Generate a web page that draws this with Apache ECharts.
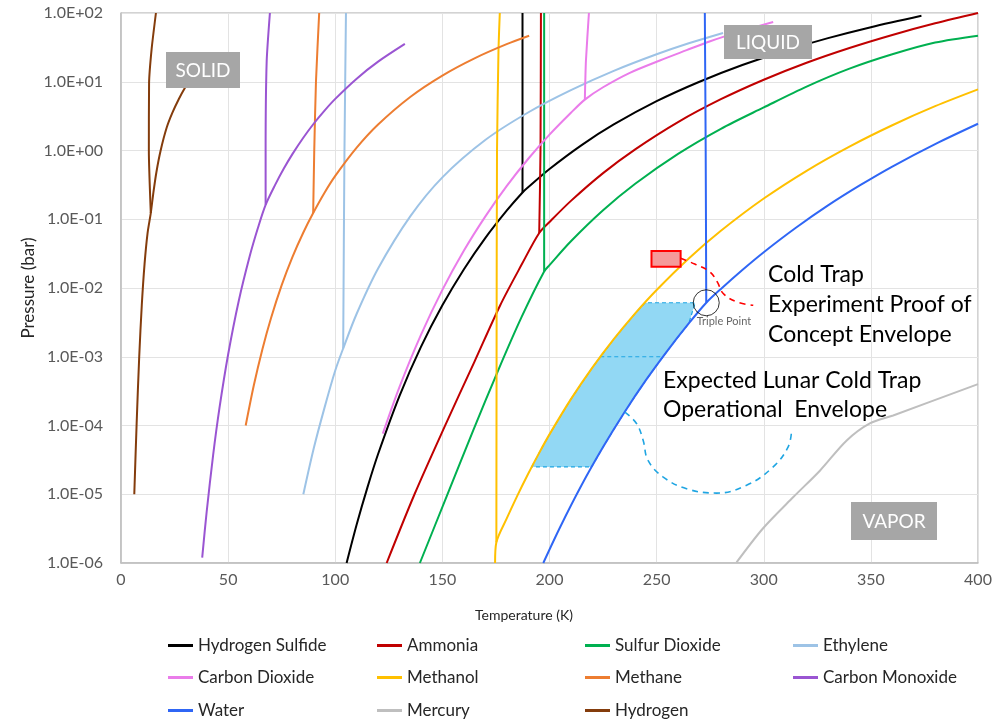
<!DOCTYPE html>
<html>
<head>
<meta charset="utf-8">
<script src="https://cdn.jsdelivr.net/npm/echarts@6/dist/echarts.min.js"></script>
<style>
  html, body { margin: 0; padding: 0; background: #fff; }
  #chart { width: 1005px; height: 722px; }
</style>
</head>
<body>
<div id="chart"></div>
<script>
// [temperature K, pressure bar]
// sub = solid/vapour, vap = liquid/vapour, melt = solid/liquid
const h2sSub = [[105.3, 1e-6], [110, 3.63e-6], [115, 1.25e-5], [120, 3.85e-5], [130, 2.7e-4], [140, 1.39e-3], [150, 5.6e-3], [160, 1.86e-2], [170, 5.31e-2], [180, 0.133], [187.4, 0.245]]
const h2sVap = [[190, 0.291], [200, 0.538], [215, 1.2], [230, 2.39], [250, 5.21], [270, 10], [290, 17.5], [310, 28.3], [330, 43.1], [350, 62.2], [373.6, 91.2]]
const h2sMelt = [[187.4, 0.245], [187.4, 100]]

const nh3Sub = [[124, 1e-6], [137, 1e-5], [151, 9.55e-5], [165, 8.51e-4], [177, 5.62e-3], [187, 2.19e-2], [195.2, 6.31e-2]]
const nh3Vap = [[200, 9.12e-2], [210, 0.185], [225, 0.469], [240, 1.04], [260, 2.59], [280, 5.57], [300, 10.7], [320, 18.9], [340, 31], [360, 48], [380, 70.8], [400, 100]]
const nh3Melt = [[195.2, 6.31e-2], [195.8, 1], [196, 100]]

const so2Sub = [[139.5, 1e-6], [152, 9.3e-6], [164.4, 8.5e-5], [176, 6.3e-4], [187, 3.8e-3], [197.5, 1.74e-2]]
const so2Vap = [[200, 2.15e-2], [210, 4.78e-2], [225, 0.135], [240, 0.328], [260, 0.893], [280, 2.07], [300, 4.23], [320, 8.5], [340, 15.5], [360, 25.1], [380, 37.2], [400, 46.8]]
const so2Melt = [[197.5, 1.74e-2], [197.5, 100]]

const c2h4Sub = [[85.1, 1e-5], [90, 4.7e-5], [95, 1.82e-4], [100, 6.3e-4], [103.7, 1.32e-3]]
const c2h4Vap = [[110, 4.22e-3], [120, 1.92e-2], [135, 0.11], [150, 0.407], [170, 1.42], [190, 3.57], [210, 7.55], [230, 14.4], [250, 25.1], [265, 36.3], [281, 51.3]]
const c2h4Melt = [[103.7, 1.32e-3], [104.3, 1], [105, 100]]

const co2Sub = [[122.2, 7.6e-5], [130, 3.64e-4], [140, 2.08e-3], [150, 9.38e-3], [160, 3.47e-2], [170, 0.109], [180, 0.303], [190, 0.752], [200, 1.7], [210, 3.54], [216.5, 5.5]]
const co2Vap = [[225, 8.32], [237.5, 13.5], [251.5, 20.4], [264, 28.8], [275, 38.9], [290, 55], [304.4, 74.1]]
const co2Melt = [[216.5, 5.5], [217, 20], [218.4, 100]]

const meohSub = [[174.6, 1e-6], [175.2, 2e-6]]
const meohVap = [[180, 4.41e-6], [185, 9.55e-6], [190, 1.97e-5], [195, 3.9e-5], [200, 7.43e-5], [210, 2.42e-4], [220, 6.95e-4], [230, 1.8e-3], [240, 4.27e-3], [250, 9.35e-3],
  [265, 2.69e-2], [280, 6.79e-2], [300, 0.2], [320, 0.507], [340, 1.14], [360, 2.33], [380, 4.41], [400, 7.74]]
const meohMelt = [[175.2, 2e-6], [175.3, 1e-3], [175.5, 1], [176.2, 30], [176.8, 100]]

const ch4Sub = [[58.2, 1e-4], [62, 3.85e-4], [66, 1.29e-3], [70, 3.64e-3], [75, 1.1e-2], [80, 2.82e-2], [85, 6.32e-2], [89.7, 0.123]]
const ch4Vap = [[95, 0.243], [100, 0.427], [110, 1.1], [120, 2.39], [135, 6.01], [150, 12.3], [165, 21.9], [180, 35.2], [190.5, 46.7]]
const ch4Melt = [[89.7, 0.123], [90.2, 1], [91, 10], [92.5, 100]]

const coSub = [[37.9, 1.2e-6], [40, 5.61e-6], [43, 3.71e-5], [46, 1.83e-4], [50, 1.08e-3], [55, 6.59e-3], [60, 2.85e-2], [64, 7.64e-2], [67.5, 0.162]]
const coVap = [[72, 0.319], [76, 0.546], [80, 0.885], [85, 1.52], [90, 2.47], [95, 3.81], [100, 5.64], [110, 11.1], [120, 19.6], [132.5, 35.5]]
const coMelt = [[67.5, 0.162], [67.5, 1], [68, 20], [69.5, 100]]

const h2oSub = [[197.1, 1e-6], [205, 3.34e-6], [215, 1.36e-5], [225, 4.85e-5], [235, 1.56e-4], [245, 4.56e-4], [255, 1.22e-3], [265, 3.05e-3], [273.16, 6.1e-3]]
const h2oVap = [[280, 9.7e-3], [290, 1.83e-2], [300, 3.32e-2], [315, 7.53e-2], [330, 0.159], [345, 0.313], [360, 0.585], [380, 1.24], [400, 2.45]]
const h2oMelt = [[273.16, 6.1e-3], [272.9, 1], [272.5, 100]]

const hgVap = [[287.3, 1.02e-6], [299.7, 3.2e-6], [313.8, 9.1e-6], [326.2, 2.2e-5], [338.6, 6.0e-5], [349.5, 1.07e-4], [360.4, 1.4e-4], [400, 4.0e-4]]

const h2Sub = [[6.2, 1e-5], [7.3, 1.07e-4], [8.5, 1e-3], [9.7, 5.6e-3], [11, 2.24e-2], [12.4, 6.3e-2], [13.9, 0.123]]
const h2Vap = [[15, 0.229], [16.5, 0.479], [18.5, 1], [21.3, 2.14], [24, 3.55], [27, 5.62], [30, 8.32], [33, 11.7]]
const h2Melt = [[13.9, 0.123], [13, 1], [13.1, 9.5], [14.3, 30], [16.3, 100]]

// annotations (also in T / P)
const envelope = [[191.7, 2.5e-5], [195, 3.9e-5], [200, 7.43e-5], [210, 2.42e-4], [220, 6.95e-4], [230, 1.8e-3], [240, 4.27e-3], [244.6, 6.1e-3],
  [268, 6.1e-3], [265, 3.05e-3], [255, 1.22e-3], [245, 4.56e-4], [235, 1.56e-4], [225, 4.85e-5], [219.7, 2.5e-5]]
const envelopeMid = [[223.7, 1e-3], [252.9, 1e-3]]
const coldTrapBox = [[247.6, 0.0204], [261.2, 0.0345]]
const redLeader = [[261.2, 0.027], [267.8, 0.0223], [274.8, 0.0172], [278.3, 0.0123], [281.1, 8.3e-3], [287.3, 6.3e-3], [295.1, 5.6e-3]]
const blueLeader = [[235.2, 1.57e-4], [240.6, 1.07e-4], [243.7, 6.1e-5], [246, 3.1e-5], [253.1, 1.78e-5], [264, 1.2e-5],
  [278, 1.04e-5], [292, 1.35e-5], [304.4, 2.5e-5], [311.4, 4.9e-5], [313, 8.5e-5]]
const triplePoint = [[273.16, 6.1e-3]]

const legendRows = [
  ['Hydrogen Sulfide', 'Ammonia', 'Sulfur Dioxide', 'Ethylene'],
  ['Carbon Dioxide', 'Methanol', 'Methane', 'Carbon Monoxide'],
  ['Water', 'Mercury', 'Hydrogen']
]

const FONT = 'Lato, "Open Sans", sans-serif'

const substances = [
  { name: 'Hydrogen Sulfide', color: '#000000', sub: h2sSub, vap: h2sVap, melt: h2sMelt },
  { name: 'Ammonia', color: '#C00000', sub: nh3Sub, vap: nh3Vap, melt: nh3Melt },
  { name: 'Sulfur Dioxide', color: '#00B050', sub: so2Sub, vap: so2Vap, melt: so2Melt },
  { name: 'Ethylene', color: '#9DC3E6', sub: c2h4Sub, vap: c2h4Vap, melt: c2h4Melt },
  { name: 'Carbon Dioxide', color: '#EA7CEA', sub: co2Sub, vap: co2Vap, melt: co2Melt },
  { name: 'Methanol', color: '#FFC000', sub: meohSub, vap: meohVap, melt: meohMelt },
  { name: 'Methane', color: '#ED7D31', sub: ch4Sub, vap: ch4Vap, melt: ch4Melt },
  { name: 'Carbon Monoxide', color: '#9A55D2', sub: coSub, vap: coVap, melt: coMelt },
  { name: 'Water', color: '#2F66F5', sub: h2oSub, vap: h2oVap, melt: h2oMelt },
  { name: 'Mercury', color: '#BFBFBF', sub: [], vap: hgVap, melt: null },
  { name: 'Hydrogen', color: '#843C0C', sub: h2Sub, vap: h2Vap, melt: h2Melt }
]

function line (name, color, data, extra) {
  return Object.assign({
    name, type: 'line', data, smooth: 0.3, symbol: 'none', silent: true,
    lineStyle: { color, width: 2 }, itemStyle: { color }, z: 3
  }, extra)
}

const series = []
substances.forEach(s => {
  series.push(line(s.name, s.color, s.sub.concat(s.vap)))
  if (s.melt) series.push(line(s.name, s.color, s.melt, { smooth: 0.2 }))
})

// lunar envelope fill
series.push({
  type: 'custom', silent: true, z: 1,
  data: [envelope[0]],
  renderItem (params, api) {
    return {
      type: 'polygon',
      shape: { points: envelope.map(p => api.coord(p)) },
      style: { fill: '#92D8F4', stroke: '#1FA5E2', lineWidth: 1.2, lineDash: [4, 3] }
    }
  }
})
series.push(line('', '#1FA5E2', envelopeMid, { smooth: false, z: 2, lineStyle: { color: '#1FA5E2', width: 1.2, type: [4, 3] } }))
// cold trap experiment box
series.push({
  type: 'custom', silent: true, z: 4,
  data: [coldTrapBox[0]],
  renderItem (params, api) {
    const a = api.coord(coldTrapBox[0])
    const b = api.coord(coldTrapBox[1])
    return {
      type: 'rect',
      shape: { x: a[0], y: b[1], width: b[0] - a[0], height: a[1] - b[1] },
      style: { fill: '#F59A9A', stroke: '#FF0000', lineWidth: 2 }
    }
  }
})
series.push(line('', '#FF0000', redLeader, { smooth: 0.4, z: 4, lineStyle: { color: '#FF0000', width: 1.6, type: [6, 5] } }))
series.push(line('', '#1FA5E2', blueLeader, { smooth: 0.4, z: 4, lineStyle: { color: '#1FA5E2', width: 1.6, type: [6, 5] } }))
series.push({
  type: 'scatter', silent: true, z: 5,
  data: triplePoint,
  symbol: 'circle', symbolSize: 26,
  itemStyle: { color: 'rgba(0,0,0,0)', borderColor: '#000', borderWidth: 1 },
  label: { show: true, formatter: 'Triple Point', position: [4, 27], fontSize: 11, color: '#404040', fontFamily: FONT }
})

const cols = [168, 377, 585, 793]
const rowTops = [637, 669, 702]
const legends = []
legendRows.forEach((row, r) => row.forEach((name, c) => {
  legends.push({
    data: [name], left: cols[c], top: rowTops[r], padding: 0,
    icon: 'rect', itemWidth: 25, itemHeight: 3, itemGap: 0, selectedMode: false,
    textStyle: { fontSize: 17, color: '#262626', fontFamily: FONT }
  })
}))

// grey phase tags drawn over the curves
function tag (text, x, y, w, h) {
  return [
    { type: 'rect', z: 100, shape: { x, y, width: w, height: h }, style: { fill: '#A6A6A6' } },
    { type: 'text', z: 101, x: x + w / 2, y: y + h / 2 + 1, style: { text, fill: '#fff', font: '19px ' + FONT, align: 'center', verticalAlign: 'middle' } }
  ]
}
function note (text, x, y) {
  return { type: 'text', x, y, z: 100, style: { text, fill: '#000', font: '23px ' + FONT, verticalAlign: 'middle' } }
}

const chart = echarts.init(document.getElementById('chart'), null, { renderer: 'canvas' })
chart.setOption({
  backgroundColor: '#fff',
  animation: false,
  grid: { left: 121, right: 27, top: 13, bottom: 159, show: true, borderColor: '#A6A6A6', borderWidth: 1 },
  legend: legends,
  xAxis: {
    type: 'value', min: 0, max: 400, interval: 50,
    axisLine: { lineStyle: { color: '#BFBFBF', width: 1.5 } },
    axisTick: { show: false },
    axisLabel: { color: '#595959', fontSize: 16, margin: 9, fontFamily: FONT },
    splitLine: { lineStyle: { color: '#E3E3E3' } }
  },
  yAxis: {
    type: 'log', logBase: 10, min: 1e-6, max: 100, splitNumber: 8,
    axisLine: { show: true, lineStyle: { color: '#BFBFBF', width: 1.5 } },
    axisTick: { show: false },
    axisLabel: {
      color: '#595959', fontSize: 16, margin: 18, fontFamily: FONT,
      formatter: v => {
        const e = Math.round(Math.log10(v))
        return '1.0E' + (e < 0 ? '-' : '+') + String(Math.abs(e)).padStart(2, '0')
      }
    },
    splitLine: { lineStyle: { color: '#E3E3E3' } }
  },
  graphic: {
    elements: [].concat(
      tag('SOLID', 166, 52, 74, 36),
      tag('LIQUID', 724, 25, 88, 34),
      tag('VAPOR', 851, 502, 86, 38),
      [
        note('Cold Trap', 768, 275),
        note('Experiment Proof of', 768, 305),
        note('Concept Envelope', 768, 335),
        note('Expected Lunar Cold Trap', 663, 381),
        note('Operational  Envelope', 663, 410),
        { type: 'text', x: 524, y: 615, z: 100, style: { text: 'Temperature (K)', fill: '#262626', font: '14px ' + FONT, align: 'center', verticalAlign: 'middle' } },
        { type: 'text', x: 29, y: 288, rotation: Math.PI / 2, z: 100, style: { text: 'Pressure (bar)', fill: '#262626', font: '17px ' + FONT, align: 'center', verticalAlign: 'middle' } }
      ]
    )
  },
  series
})
</script>
</body>
</html>
